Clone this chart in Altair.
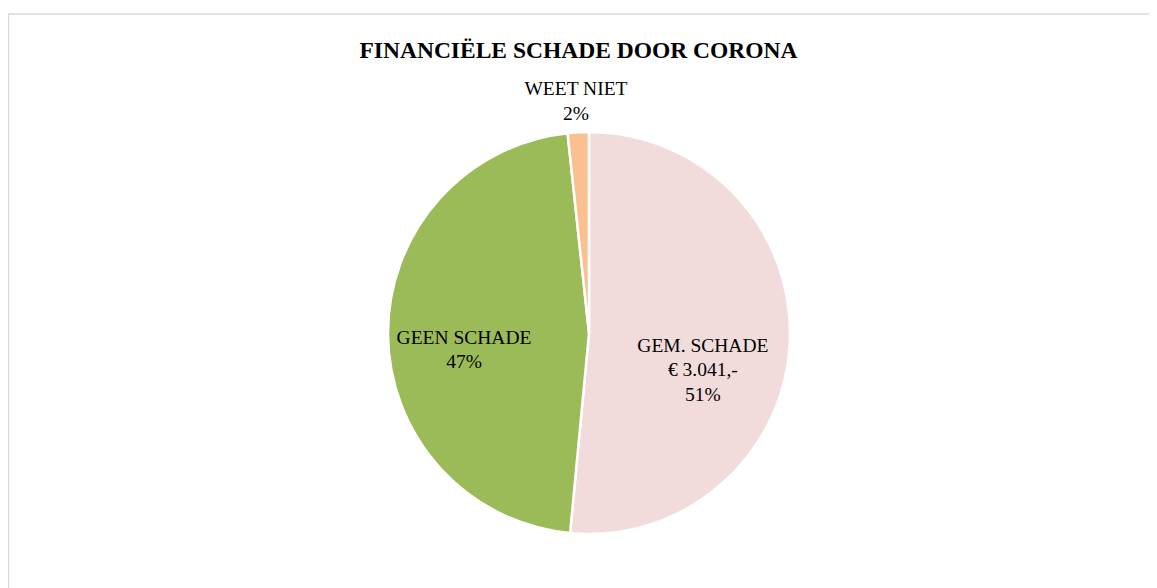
import altair as alt
import pandas as pd

categories = ["GEM. SCHADE", "GEEN SCHADE", "WEET NIET"]
values = [51.5, 46.8, 1.7]
labels = [["GEM. SCHADE", "€ 3.041,-", "51%"], ["GEEN SCHADE", "47%"], ["WEET NIET", "2%"]]
colors = ["#F2DCDB", "#9BBB59", "#FAC090"]

df = pd.DataFrame({
    "cat": categories,
    "val": values,
    "order": [0, 1, 2],
    "label": ["\n".join(l) for l in labels],
})

W, H = 1141, 580
CX, CY, R = 581, 325, 201
FONT = "Liberation Serif"

base = alt.Chart(df).encode(
    theta=alt.Theta("val:Q", stack=True),
    order=alt.Order("order:Q"),
)

pie = base.mark_arc(stroke="white", strokeWidth=2.5).encode(
    color=alt.Color("cat:N", scale=alt.Scale(domain=categories, range=colors), legend=None),
    x=alt.value(CX), y=alt.value(CY), radius=alt.value(R),
)

def lab(cat, r, dx=0, dy=0):
    return base.mark_text(
        font=FONT, fontSize=19.5, color="#000000", lineBreak="\n", lineHeight=24.5,
        align="center", baseline="middle", dx=dx, dy=dy,
    ).encode(
        text="label:N", x=alt.value(CX), y=alt.value(CY), radius=alt.value(r),
        opacity=alt.condition("datum.cat == '" + cat + "'", alt.value(1), alt.value(0)),
    )

border = alt.Chart(pd.DataFrame({"a": [0]})).mark_rect(
    fill=None, stroke="#D9D9D9", strokeWidth=1.5
).encode(x=alt.value(0.5), x2=alt.value(W + 20), y=alt.value(6), y2=alt.value(H + 40))

chart = alt.layer(
    border, pie,
    lab("GEM. SCHADE", 119, dx=-5, dy=7),
    lab("GEEN SCHADE", 131, dx=6, dy=4),
    lab("WEET NIET", 244),
).properties(
    width=W, height=H,
    title=alt.TitleParams(
        text="FINANCIËLE SCHADE DOOR CORONA", font=FONT, fontSize=23.5, fontWeight="bold",
        color="#000000", anchor="middle", baseline="alphabetic", dy=77,
    ),
    autosize=alt.AutoSizeParams(type="none"),
    padding=0,
).configure_view(stroke=None)

chart.save("out.html", embed_options={"renderer": "svg", "actions": False})
